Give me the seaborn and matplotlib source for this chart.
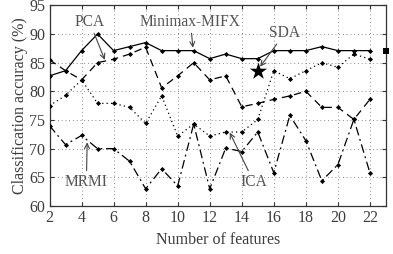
import matplotlib
matplotlib.use("Agg")
import matplotlib.pyplot as plt
import seaborn as sns
import pandas as pd

n_features = list(range(2, 23))
mifx = [82.7, 83.6, 87.1, 90.0, 87.1, 87.8, 88.5, 87.1, 87.1, 87.1, 85.7,
        86.5, 85.7, 85.7, 87.1, 87.1, 87.1, 87.8, 87.1, 87.1, 87.1]
pca = [85.5, 83.6, 82.0, 85.0, 85.6, 86.5, 87.7, 80.6, 82.7, 85.0, 82.0,
       82.7, 77.3, 77.9, 78.6, 79.2, 80.0, 77.2, 77.2, 75.1, 78.6]
ica = [77.5, 79.3, 82.0, 77.9, 77.9, 77.2, 74.4, 79.2, 72.2, 74.3, 72.2,
       72.9, 72.9, 75.1, 83.6, 82.2, 83.6, 85.0, 84.2, 86.5, 85.6]
mrmi = [74.0, 70.7, 72.3, 70.0, 70.0, 67.8, 63.0, 66.5, 63.5, 74.3, 63.0,
        70.1, 69.5, 72.9, 65.8, 75.8, 71.4, 64.4, 67.2, 75.1, 65.8]
sda_x = [15]
sda_y = [83.6]
edge_x = [23]
edge_y = [87.0]

x_ticks = list(range(2, 23, 2))
y_ticks = list(range(60, 96, 5))

sns.set_style("ticks")
plt.rcParams["font.family"] = ["Liberation Serif", "DejaVu Serif"]
txt = "#3c3c3c"

fig = plt.figure(figsize=(3.93, 2.54), dpi=100)
ax = fig.add_axes([0.126, 0.189, 0.856, 0.79])

series = [
    (mifx, "-"),
    (pca, (0, (6, 4))),
    (ica, (0, (1, 2.5))),
    (mrmi, (0, (7, 3, 1.5, 3))),
]
for vals, ls in series:
    df = pd.DataFrame({"x": n_features, "y": vals})
    sns.lineplot(data=df, x="x", y="y", ax=ax, color="black", linewidth=0.9,
                 linestyle=ls, marker="D", markersize=2.6, markeredgewidth=0,
                 zorder=3)

sns.scatterplot(x=sda_x, y=sda_y, ax=ax, marker="*", s=170, color="black",
                linewidth=0, zorder=4)
sns.scatterplot(x=edge_x, y=edge_y, ax=ax, marker="s", s=14, color="black",
                linewidth=0, zorder=4, clip_on=False)

ax.set_xlim(2, 23)
ax.set_ylim(60, 95)
ax.set_xticks(x_ticks)
ax.set_yticks(y_ticks)
ax.grid(True, linestyle=(0, (1, 3.5)), color="#666666", linewidth=0.6)
ax.tick_params(direction="in", top=True, right=True, length=3, width=0.8,
               labelsize=11.5, labelcolor=txt, color="#333333", pad=3)
for s in ax.spines.values():
    s.set_linewidth(0.9)
    s.set_color("#333333")
ax.set_xlabel("Number of features", fontsize=11.5, color=txt, labelpad=4)
ax.set_ylabel("Classification accuracy (%)", fontsize=11.5, color=txt, labelpad=1)

aprops = dict(arrowstyle="->", color="#444444", lw=0.8, mutation_scale=9,
              shrinkA=0, shrinkB=0)
ann = dict(fontsize=11.2, color="#555555", ha="center", va="center", arrowprops=aprops)
ax.annotate("PCA", xy=(5.45, 85.5), xytext=(4.5, 92.1), **ann)
ax.annotate("Minimax-MIFX", xy=(10.95, 87.6), xytext=(10.8, 92.1), **ann)
ax.annotate("SDA", xy=(15.15, 84.3), xytext=(16.7, 90.2), **ann)
ax.annotate("MRMI", xy=(4.35, 71.1), xytext=(4.3, 64.2), **ann)
ax.annotate("ICA", xy=(13.25, 72.8), xytext=(14.75, 64.2), **ann)

fig.savefig("out.png", dpi=100)
